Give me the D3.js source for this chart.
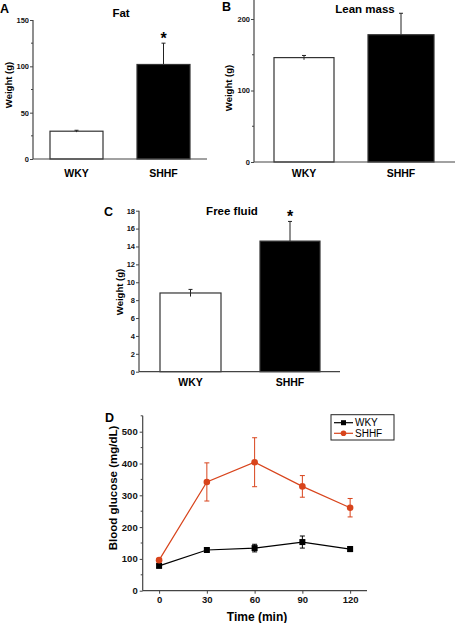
<!DOCTYPE html>
<html><head><meta charset="utf-8">
<script src="https://cdn.jsdelivr.net/npm/d3@7"></script>
<style>
body{margin:0;background:#fff;}
svg{display:block;font-family:"Liberation Sans",Arial,sans-serif;}
</style></head>
<body><svg id="c" width="455" height="623"></svg>
<script>
const groups = ["WKY", "SHHF"];
const fatValues = [30, 102];
const fatErrors = [1, 23];
const leanValues = [146, 178];
const leanErrors = [3, 30];
const fluidValues = [8.8, 14.6];
const fluidErrors = [0.4, 2.2];
const fatTicks = [0, 50, 100, 150];
const leanTicks = [0, 100, 200];
const fluidTicks = [0, 2, 4, 6, 8, 10, 12, 14, 16, 18];
const times = [0, 30, 60, 90, 120];
const wkyGlucose = [78, 128, 134, 153, 131];
const wkyGlucoseErr = [5, 5, 12, 19, 8];
const shhfGlucose = [96, 342, 404, 328, 261];
const shhfGlucoseErr = [5, 60, 77, 34, 29];
const glucoseTicks = [0, 100, 200, 300, 400, 500];
const timeTicks = [0, 30, 60, 90, 120];

const svg = d3.select("#c");
const axisCol = "#444";
const red = "#d8441c";

function barPanel(o) {
  const y = d3.scaleLinear().domain(o.domain).range([o.y0, o.y1]);
  const g = svg.append("g");
  o.values.forEach((v, i) => {
    const x0 = o.barX[i][0], x1 = o.barX[i][1];
    const cx = (x0 + x1) / 2;
    const e = o.errors[i];
    g.append("line").attr("x1", cx).attr("x2", cx)
      .attr("y1", y(v + e)).attr("y2", i === 0 ? y(v - e) : y(v))
      .attr("stroke", "#222").attr("stroke-width", 1);
    g.append("line").attr("x1", cx - 2).attr("x2", cx + 2)
      .attr("y1", y(v + e)).attr("y2", y(v + e)).attr("stroke", "#222");
    if (i === 0) g.append("line").attr("x1", cx - 2).attr("x2", cx + 2)
      .attr("y1", y(v - e)).attr("y2", y(v - e)).attr("stroke", "#222");
    g.append("rect").attr("x", x0).attr("y", y(v)).attr("width", x1 - x0)
      .attr("height", y(0) - y(v))
      .attr("fill", i === 0 ? "#fff" : "#000").attr("stroke", "#333").attr("stroke-width", 1.2);
    if (i === 0) {
      g.append("line").attr("x1", cx).attr("x2", cx)
        .attr("y1", y(v)).attr("y2", y(v - e)).attr("stroke", "#222");
    }
    g.append("text").attr("x", cx).attr("y", o.labelY)
      .attr("text-anchor", "middle").attr("font-size", 10.5).attr("font-weight", "bold")
      .text(groups[i]);
  });
  const ax = d3.axisLeft(y).tickValues(o.ticks).tickSize(3).tickPadding(1).tickFormat(d3.format("d"));
  const ag = g.append("g").attr("transform", `translate(${o.axisX},0)`).call(ax);
  ag.select(".domain").remove();
  ag.selectAll(".tick line").attr("stroke", axisCol);
  ag.selectAll("text").attr("font-size", 7.5).attr("font-weight", "bold")
    .attr("font-family", "Liberation Sans, Arial, sans-serif").attr("fill", "#111");
  if (o.minor) {
    g.selectAll(null).data(o.minor).enter().append("line")
      .attr("x1", o.axisX - 2).attr("x2", o.axisX).attr("y1", d => y(d)).attr("y2", d => y(d))
      .attr("stroke", axisCol);
  }
  g.append("line").attr("x1", o.axisX).attr("x2", o.axisX).attr("y1", o.axisTop).attr("y2", y(0))
    .attr("stroke", axisCol).attr("stroke-width", 1.2);
  g.append("line").attr("x1", o.axisX).attr("x2", o.axisRight).attr("y1", y(0)).attr("y2", y(0))
    .attr("stroke", axisCol).attr("stroke-width", 1.2);
  g.append("text").attr("transform", `translate(${o.ylabX},${o.ylabY}) rotate(-90)`)
    .attr("text-anchor", "middle").attr("font-size", 9.5).attr("font-weight", "bold").text("Weight (g)");
  g.append("text").attr("x", o.titleX).attr("y", o.titleY).attr("text-anchor", "middle")
    .attr("font-size", 11.5).attr("font-weight", "bold").text(o.title);
  g.append("text").attr("x", o.letterX).attr("y", o.letterY)
    .attr("font-size", 12.5).attr("font-weight", "bold").text(o.letter);
  if (o.star) {
    const i = 1;
    g.append("text").attr("x", (o.barX[i][0] + o.barX[i][1]) / 2).attr("y", y(o.values[i] + o.errors[i]) + 1)
      .attr("text-anchor", "middle").attr("font-size", 16).attr("font-weight", "bold").text("*");
  }
}

barPanel({
  values: fatValues, errors: fatErrors, ticks: fatTicks, minor: [25, 75, 125],
  domain: [0, 150], y0: 159, y1: 20, axisX: 33, axisTop: 20, axisRight: 207,
  barX: [[50, 103], [137, 190]], labelY: 177,
  ylabX: 12, ylabY: 85, title: "Fat", titleX: 121, titleY: 17, letter: "A", letterX: 0, letterY: 13, star: true
});
barPanel({
  values: leanValues, errors: leanErrors, ticks: leanTicks, minor: [50, 150],
  domain: [0, 200], y0: 162, y1: 19, axisX: 254, axisTop: 0, axisRight: 455,
  barX: [[274, 334], [368, 434]], labelY: 177,
  ylabX: 232, ylabY: 88, title: "Lean mass", titleX: 365, titleY: 13, letter: "B", letterX: 222, letterY: 11, star: false
});
barPanel({
  values: fluidValues, errors: fluidErrors, ticks: fluidTicks, minor: null,
  domain: [0, 18], y0: 371.7, y1: 210.7, axisX: 139, axisTop: 210.7, axisRight: 340,
  barX: [[160, 221], [260, 320]], labelY: 386,
  ylabX: 123, ylabY: 292, title: "Free fluid", titleX: 232, titleY: 215, letter: "C", letterX: 104, letterY: 216, star: true
});

(function () {
  const x = d3.scaleLinear().domain([-10.3, 130.6]).range([142.7, 367]);
  const y = d3.scaleLinear().domain([0, 500]).range([590.7, 431.7]);
  const g = svg.append("g");
  const yAx = d3.axisLeft(y).tickValues(glucoseTicks).tickSize(3).tickPadding(2);
  const ya = g.append("g").attr("transform", "translate(142.7,0)").call(yAx);
  ya.select(".domain").remove();
  g.selectAll(null).data([50, 150, 250, 350, 450, 550]).enter().append("line")
    .attr("x1", 140.7).attr("x2", 142.7).attr("y1", d => y(d)).attr("y2", d => y(d)).attr("stroke", axisCol);
  g.append("line").attr("x1", 142.7).attr("x2", 142.7).attr("y1", y(550)).attr("y2", y(0))
    .attr("stroke", axisCol).attr("stroke-width", 1.2);
  const xAx = d3.axisBottom(x).tickValues(timeTicks).tickSize(3).tickPadding(3);
  const xa = g.append("g").attr("transform", `translate(0,${y(0)})`).call(xAx);
  xa.select(".domain").remove();
  g.append("line").attr("x1", 142.7).attr("x2", 367).attr("y1", y(0)).attr("y2", y(0))
    .attr("stroke", axisCol).attr("stroke-width", 1.2);
  [ya, xa].forEach(a => {
    a.selectAll(".tick line").attr("stroke", axisCol);
    a.selectAll("text").attr("font-size", 9.5).attr("font-weight", "bold").attr("fill", "#111")
      .attr("font-family", "Liberation Sans, Arial, sans-serif");
  });
  g.append("text").attr("x", 257).attr("y", 621).attr("text-anchor", "middle")
    .attr("font-size", 12).attr("font-weight", "bold").text("Time (min)");
  g.append("text").attr("transform", "translate(117,488) rotate(-90)").attr("text-anchor", "middle")
    .attr("font-size", 11.5).attr("font-weight", "bold").text("Blood glucose (mg/dL)");
  g.append("text").attr("x", 105).attr("y", 422).attr("font-size", 12.5).attr("font-weight", "bold").text("D");

  const line = d3.line().x((d, i) => x(times[i])).y(d => y(d));
  const series = [
    { vals: wkyGlucose, errs: wkyGlucoseErr, col: "#000", shape: "square" },
    { vals: shhfGlucose, errs: shhfGlucoseErr, col: red, shape: "circle" }
  ];
  series.forEach(s => {
    g.append("path").datum(s.vals).attr("d", line).attr("fill", "none")
      .attr("stroke", s.col).attr("stroke-width", 1.2);
    s.vals.forEach((v, i) => {
      const cx = x(times[i]);
      const e = s.errs[i];
      g.append("line").attr("x1", cx).attr("x2", cx).attr("y1", y(v - e)).attr("y2", y(v + e))
        .attr("stroke", s.col).attr("stroke-width", 1);
      [v - e, v + e].forEach(t => g.append("line").attr("x1", cx - 2.5).attr("x2", cx + 2.5)
        .attr("y1", y(t)).attr("y2", y(t)).attr("stroke", s.col).attr("stroke-width", 1));
      if (s.shape === "square") g.append("rect").attr("x", cx - 3).attr("y", y(v) - 3)
        .attr("width", 6).attr("height", 6).attr("fill", s.col);
      else g.append("circle").attr("cx", cx).attr("cy", y(v)).attr("r", 3.3).attr("fill", s.col);
    });
  });
  g.append("rect").attr("x", 331).attr("y", 414.7).attr("width", 63).attr("height", 25.3)
    .attr("fill", "#fff").attr("stroke", "#222").attr("stroke-width", 1);
  const leg = [{ name: "WKY", col: "#000", shape: "square", y: 422.7 }, { name: "SHHF", col: red, shape: "circle", y: 433.3 }];
  leg.forEach(l => {
    g.append("line").attr("x1", 334).attr("x2", 353).attr("y1", l.y).attr("y2", l.y)
      .attr("stroke", l.col).attr("stroke-width", 1.2);
    if (l.shape === "square") g.append("rect").attr("x", 341).attr("y", l.y - 2.5).attr("width", 5).attr("height", 5).attr("fill", l.col);
    else g.append("circle").attr("cx", 343.5).attr("cy", l.y).attr("r", 2.8).attr("fill", l.col);
    g.append("text").attr("x", 355).attr("y", l.y + 3.5).attr("font-size", 10).text(l.name);
  });
})();
</script></body></html>
